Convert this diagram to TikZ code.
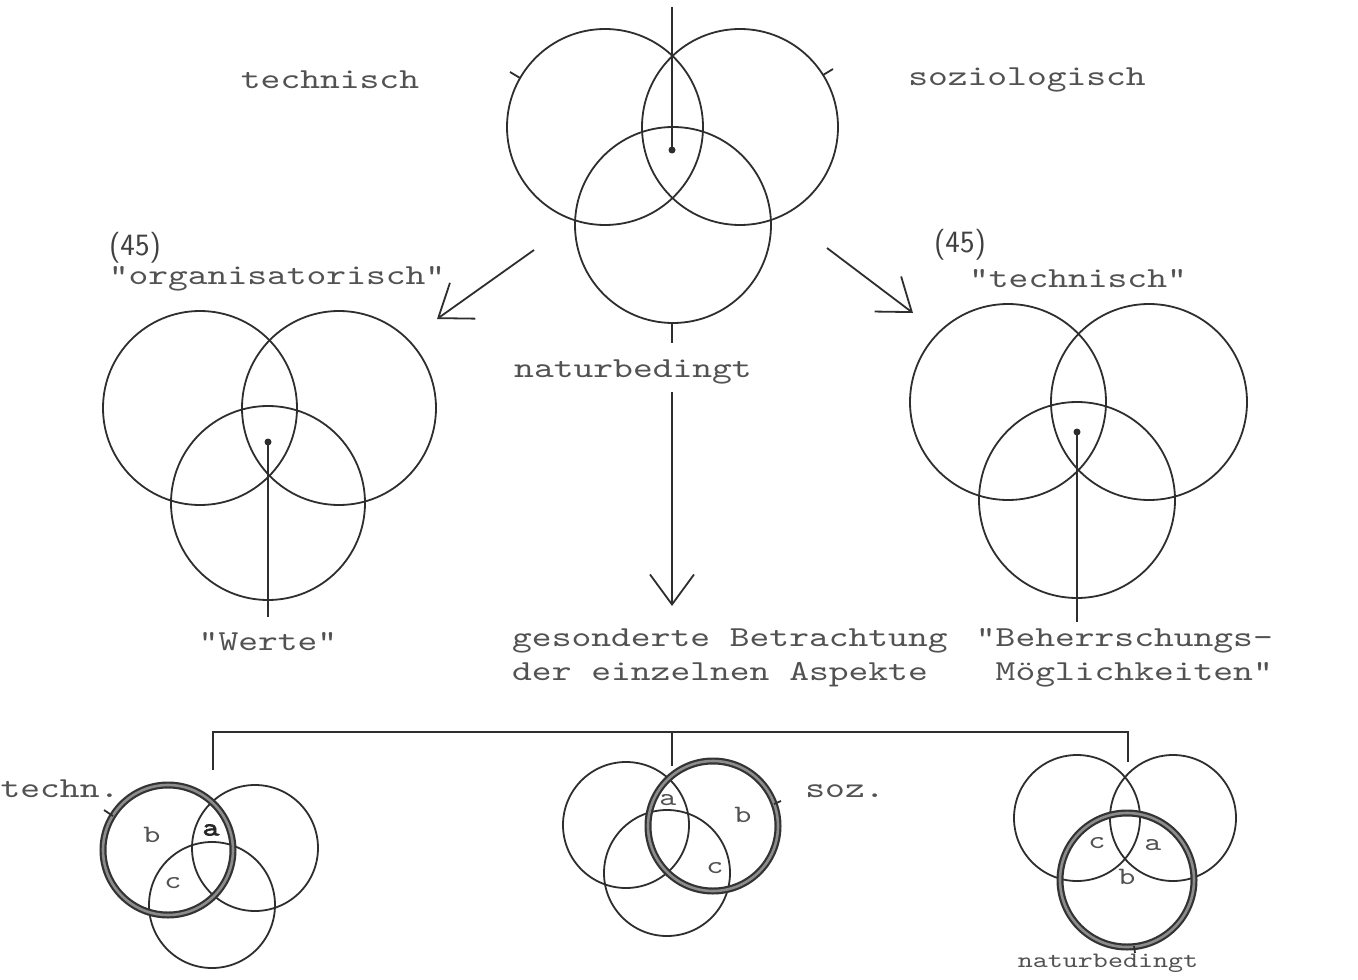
\documentclass[tikz,border=0pt]{standalone}
\usepackage{fontspec}
\newfontfamily\tw{lmmono10-regular.otf}[FakeStretch=1.3]
\newfontfamily\twb{lmmono10-regular.otf}[FakeStretch=1.3,FakeBold=2.5]
\usetikzlibrary{arrows.meta}
\begin{document}
\begin{tikzpicture}[x=1pt,y=-1pt,
  ring/.style={draw=black!82,line width=1.8pt},
  hring/.style={draw=black!80,line width=2.2pt,double=black!45,double distance=2.6pt},
  tick/.style={draw=black!82,line width=1.8pt},
  lead/.style={draw=black!82,line width=1.8pt},
  arr/.style={draw=black!82,line width=1.8pt,-{Straight Barb[length=30pt,width=44pt,line width=1.8pt]}},
  txt/.style={font=\tw\fontsize{29}{34}\selectfont,text=black!68,inner sep=0pt},
  stxt/.style={font=\tw\fontsize{22}{26}\selectfont,text=black!68,inner sep=0pt},
  ltr/.style={font=\tw\fontsize{25}{28}\selectfont,text=black!68,inner sep=0pt},
  hand/.style={font=\sffamily\fontsize{31}{34}\selectfont,text=black!75,inner sep=0pt},
  dot/.style={fill=black!82}]
\fill[white] (0,0) rectangle (1358,980);
\useasboundingbox (0,0) rectangle (1358,980);

% ---------- top diagram ----------
\coordinate (T1) at (605,127);
\coordinate (T2) at (740,127);
\coordinate (T3) at (673,225);
\draw[ring] (T1) circle (98);
\draw[ring] (T2) circle (98);
\draw[ring] (T3) circle (98);
\coordinate (Ttop) at (672,7);
\coordinate (Tdot) at (672,150);
\draw[lead] (Ttop) -- (Tdot);
\fill[dot] (Tdot) circle (3.5);
\coordinate (Tb0) at (672,323);
\coordinate (Tb1) at (672,343);
\draw[tick] (Tb0) -- (Tb1);
\coordinate (Tk1a) at (520,78);
\coordinate (Tk1b) at (510,72);
\draw[tick] (Tk1a) -- (Tk1b);
\coordinate (Tk2a) at (823,75);
\coordinate (Tk2b) at (833,69);
\draw[tick] (Tk2a) -- (Tk2b);

\node[txt] (techTop) at (330,80) {technisch};
\node[txt] (sozTop) at (1027,80) {soziologisch};
\node[txt] (natur) at (633,372) {naturbedingt};

% arrows
\coordinate (aL0) at (534,250);
\coordinate (aL1) at (437,319);
\draw[arr] (aL0) -- (aL1);
\coordinate (aR0) at (827,248);
\coordinate (aR1) at (913,313);
\draw[arr] (aR0) -- (aR1);
\coordinate (aD0) at (672,392);
\coordinate (aD1) at (672,606);
\draw[arr] (aD0) -- (aD1);

% ---------- left diagram ----------
\node[hand] (n45L) at (135,248) {(45)};
\node[txt] (orgL) at (277,279) {"organisatorisch"};
\coordinate (L1) at (200,408);
\coordinate (L2) at (339,408);
\coordinate (L3) at (268,503);
\draw[ring] (L1) circle (97);
\draw[ring] (L2) circle (97);
\draw[ring] (L3) circle (97);
\coordinate (Ldot) at (268,442);
\coordinate (Lend) at (268,617);
\draw[lead] (Ldot) -- (Lend);
\fill[dot] (Ldot) circle (3.5);
\node[txt] (werte) at (268,642) {"Werte"};

% ---------- right diagram ----------
\node[hand] (n45R) at (960,245) {(45)};
\node[txt] (techR) at (1078,279) {"technisch"};
\coordinate (R1) at (1008,402);
\coordinate (R2) at (1149,402);
\coordinate (R3) at (1077,500);
\draw[ring] (R1) circle (98);
\draw[ring] (R2) circle (98);
\draw[ring] (R3) circle (98);
\coordinate (Rdot) at (1077,432);
\coordinate (Rend) at (1077,622);
\draw[lead] (Rdot) -- (Rend);
\fill[dot] (Rdot) circle (3.5);
\node[txt,align=right,anchor=east] (beh) at (1273,658) {"Beherrschungs-\\M\"oglichkeiten"};

\node[txt,align=left,anchor=west] (ges) at (512,658) {gesonderte Betrachtung\\der einzelnen Aspekte};

% ---------- bracket ----------
\coordinate (bl) at (213,770);
\coordinate (blt) at (213,732);
\coordinate (brt) at (1128,732);
\coordinate (br) at (1128,762);
\coordinate (bmt) at (672,732);
\coordinate (bm) at (672,766);
\draw[lead] (bl) -- (blt) -- (brt) -- (br);
\draw[lead] (bmt) -- (bm);

% ---------- bottom left ----------
\coordinate (A1) at (168,850);
\coordinate (A2) at (255,848);
\coordinate (A3) at (212,905);
\draw[ring] (A2) circle (63);
\draw[ring] (A3) circle (63);
\draw[hring] (A1) circle (65);
\coordinate (Ak0) at (113,816);
\coordinate (Ak1) at (104,810);
\draw[tick] (Ak0) -- (Ak1);
\node[ltr] (Ab) at (152,835) {b};
\node[font=\twb\fontsize{25}{28}\selectfont,text=black!85,inner sep=0pt] (Aa) at (211,830) {a};
\node[ltr] (Ac) at (173,883) {c};
\node[txt] (techn) at (60,789) {techn.};

% ---------- bottom middle ----------
\coordinate (B1) at (626,825);
\coordinate (B2) at (713,826);
\coordinate (B3) at (667,873);
\draw[ring] (B1) circle (63);
\draw[ring] (B3) circle (63);
\draw[hring] (B2) circle (65);
\coordinate (Bk0) at (774,804);
\coordinate (Bk1) at (781,801);
\draw[tick] (Bk0) -- (Bk1);
\node[ltr] (Ba) at (668,800) {a};
\node[ltr] (Bb) at (743,815) {b};
\node[ltr] (Bc) at (715,868) {c};
\node[txt] (soz) at (845,791) {soz.};

% ---------- bottom right ----------
\coordinate (C1) at (1077,818);
\coordinate (C2) at (1173,818);
\coordinate (C3) at (1127,880);
\draw[ring] (C1) circle (63);
\draw[ring] (C2) circle (63);
\draw[hring] (C3) circle (67);
\coordinate (Ck0) at (1134,946);
\coordinate (Ck1) at (1135,953);
\draw[tick] (Ck0) -- (Ck1);
\node[ltr] (Cc) at (1097,843) {c};
\node[ltr] (Ca) at (1153,845) {a};
\node[ltr] (Cb) at (1127,877) {b};
\node[stxt] (naturB) at (1108,963) {naturbedingt};
\end{tikzpicture}
\end{document}
